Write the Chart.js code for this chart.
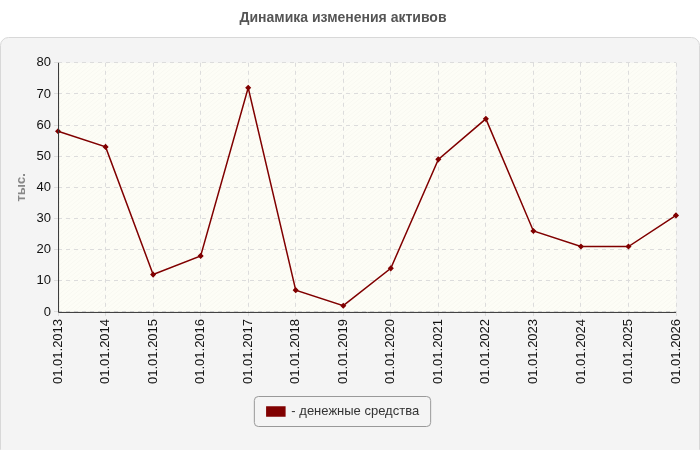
<!DOCTYPE html>
<html>
<head>
<meta charset="utf-8">
<script src="https://cdn.jsdelivr.net/npm/chart.js@4"></script>
<style>
  body { margin: 0; background: #fff; }
  #wrap { width: 700px; height: 450px; }
</style>
</head>
<body>
<div id="wrap"><canvas id="assetsChart"></canvas></div>
<script>
const dates = ['01.01.2013', '01.01.2014', '01.01.2015', '01.01.2016', '01.01.2017', '01.01.2018', '01.01.2019',
    '01.01.2020', '01.01.2021', '01.01.2022', '01.01.2023', '01.01.2024', '01.01.2025', '01.01.2026'];
const cash = [58, 53, 12, 18, 72, 7, 2, 14, 49, 62, 26, 21, 21, 31];

// panel background, plot fill, axis lines and legend frame
const decor = {
    id: 'decor',
    beforeDraw(chart) {
        const ctx = chart.ctx;
        ctx.save();
        ctx.fillStyle = '#f4f4f4';
        ctx.strokeStyle = '#d8d8d8';
        ctx.beginPath();
        ctx.roundRect(0.5, 37.5, 699, 420, 8);
        ctx.fill();
        ctx.stroke();
        const a = chart.chartArea;
        ctx.fillStyle = '#fdfdf6';
        ctx.fillRect(a.left, a.top, a.right - a.left, a.bottom - a.top);
        ctx.beginPath();
        ctx.rect(a.left, a.top, a.right - a.left, a.bottom - a.top);
        ctx.clip();
        ctx.strokeStyle = 'rgba(0,0,0,0.025)';
        for (let x = a.left - 300; x < a.right; x += 5) {
            ctx.beginPath();
            ctx.moveTo(x, a.bottom);
            ctx.lineTo(x + 300, a.top);
            ctx.stroke();
        }
        ctx.restore();
    },
    afterDraw(chart) {
        const ctx = chart.ctx;
        const a = chart.chartArea;
        ctx.save();
        ctx.strokeStyle = '#333';
        ctx.lineWidth = 1;
        ctx.beginPath();
        ctx.moveTo(a.left + 0.5, a.top);
        ctx.lineTo(a.left + 0.5, a.bottom + 0.5);
        ctx.lineTo(a.right, a.bottom + 0.5);
        ctx.stroke();
        const l = chart.legend;
        const hb = l.legendHitBoxes[0];
        ctx.fillStyle = '#fff';
        ctx.strokeStyle = '#999';
        ctx.beginPath();
        ctx.roundRect(hb.left - 12.5, hb.top - 8.5, hb.width + 24, hb.height + 17, 4);
        ctx.stroke();
        ctx.restore();
    }
};

new Chart(document.getElementById('assetsChart'), {
    type: 'line',
    data: {
        labels: dates,
        datasets: [{
            label: '- денежные средства',
            data: cash,
            borderColor: '#800000',
            backgroundColor: '#800000',
            borderWidth: 1.5,
            pointRadius: 2,
            pointStyle: 'rectRot',
            tension: 0
        }]
    },
    options: {
        responsive: true,
        maintainAspectRatio: false,
        animation: false,
        layout: { padding: { left: 10, right: 24, top: 0, bottom: 22 } },
        plugins: {
            title: {
                display: true,
                text: 'Динамика изменения активов',
                color: '#555',
                font: { family: 'Arial, Liberation Sans', size: 14, weight: 'bold' },
                padding: { top: 10, bottom: 36 }
            },
            legend: {
                position: 'bottom',
                labels: {
                    color: '#333',
                    font: { family: 'Arial, Liberation Sans', size: 13 },
                    boxWidth: 18,
                    boxHeight: 9,
                    padding: 18
                }
            },
            tooltip: { enabled: false }
        },
        scales: {
            x: {
                offset: false,
                grid: { color: '#dcdcdc', tickLength: 4 },
                border: { display: false, dash: [4, 4] },
                ticks: {
                    color: '#111',
                    maxRotation: 90,
                    minRotation: 90,
                    font: { family: 'Arial, Liberation Sans', size: 13 }
                }
            },
            y: {
                min: 0,
                max: 80,
                ticks: { stepSize: 10, color: '#111', font: { family: 'Arial, Liberation Sans', size: 13 } },
                grid: { color: '#dcdcdc', tickLength: 4 },
                border: { display: false, dash: [4, 4] },
                title: {
                    display: true,
                    text: 'тыс.',
                    color: '#888',
                    font: { family: 'Arial, Liberation Sans', size: 13, weight: 'bold' }
                }
            }
        }
    },
    plugins: [decor]
});
</script>
</body>
</html>
